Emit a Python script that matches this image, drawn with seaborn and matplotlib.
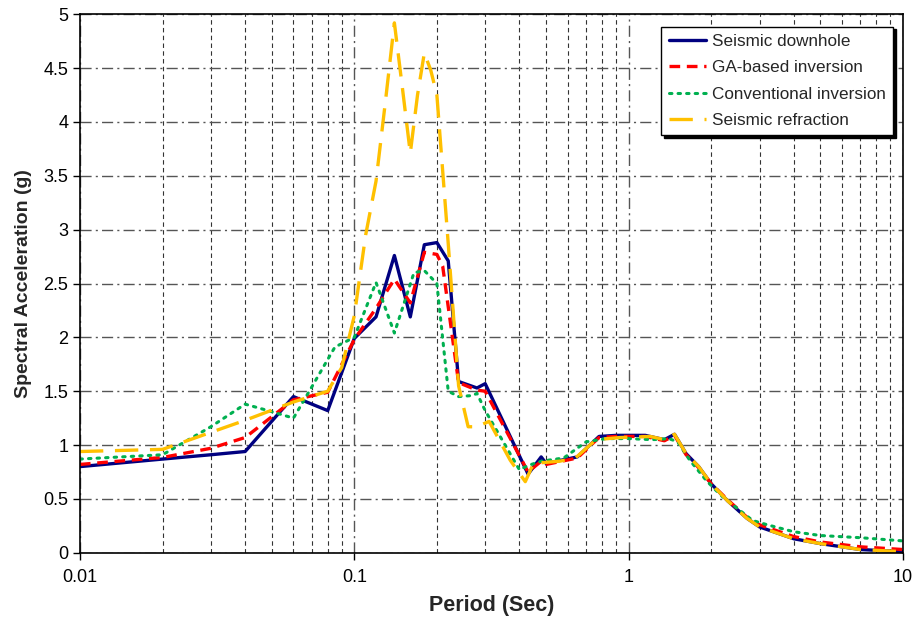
import numpy as np
import pandas as pd
import matplotlib
matplotlib.use("Agg")
import matplotlib.pyplot as plt
import seaborn as sns
from matplotlib.ticker import FixedLocator, NullFormatter, FuncFormatter

# ---- data ----
T_downhole = [0.01, 0.02, 0.03, 0.04, 0.06, 0.08, 0.10, 0.12, 0.14, 0.16, 0.18, 0.20, 0.22,
              0.24, 0.28, 0.30, 0.43, 0.48, 0.50, 0.65, 0.78, 0.90, 1.15, 1.35, 1.47, 1.62,
              1.80, 2.00, 2.30, 2.70, 3.00, 4.00, 5.00, 7.00, 10.0]
SA_downhole = [0.80, 0.87, 0.91, 0.94, 1.45, 1.32, 1.99, 2.19, 2.76, 2.19, 2.86, 2.88, 2.71,
               1.59, 1.53, 1.57, 0.73, 0.89, 0.83, 0.89, 1.08, 1.09, 1.09, 1.05, 1.10, 0.92,
               0.80, 0.64, 0.48, 0.32, 0.24, 0.13, 0.085, 0.03, 0.01]

T_ga = [0.01, 0.02, 0.03, 0.04, 0.06, 0.08, 0.10, 0.12, 0.14, 0.16, 0.18, 0.20, 0.21,
        0.24, 0.28, 0.30, 0.43, 0.48, 0.50, 0.65, 0.78, 0.90, 1.15, 1.35, 1.47, 1.62,
        1.80, 2.00, 2.30, 2.70, 3.00, 4.00, 5.00, 7.00, 10.0]
SA_ga = [0.82, 0.885, 0.97, 1.07, 1.42, 1.49, 1.98, 2.27, 2.54, 2.32, 2.79, 2.77, 2.66,
         1.58, 1.51, 1.50, 0.75, 0.85, 0.82, 0.88, 1.07, 1.08, 1.08, 1.04, 1.09, 0.91,
         0.79, 0.64, 0.49, 0.33, 0.26, 0.15, 0.10, 0.055, 0.03]

T_conv = [0.01, 0.02, 0.03, 0.04, 0.05, 0.06, 0.07, 0.085, 0.10, 0.12, 0.14, 0.165, 0.18,
          0.20, 0.22, 0.24, 0.27, 0.28, 0.30, 0.40, 0.43, 0.48, 0.58, 0.70, 0.83, 1.0,
          1.22, 1.40, 1.51, 1.67, 1.92, 2.08, 2.20, 2.83, 3.20, 4.00, 5.00, 7.00, 10.0]
SA_conv = [0.87, 0.91, 1.17, 1.38, 1.31, 1.25, 1.54, 1.91, 2.00, 2.51, 2.04, 2.60, 2.62,
           2.50, 1.50, 1.45, 1.46, 1.48, 1.32, 0.77, 0.81, 0.85, 0.88, 1.03, 1.06, 1.06,
           1.05, 1.06, 1.03, 0.86, 0.67, 0.58, 0.52, 0.30, 0.26, 0.195, 0.16, 0.14, 0.11]

T_refr = [0.01, 0.02, 0.04, 0.06, 0.08, 0.09, 0.10, 0.11, 0.12, 0.13, 0.14, 0.15, 0.16,
          0.17, 0.18, 0.19, 0.20, 0.22, 0.24, 0.26, 0.28, 0.31, 0.37, 0.42, 0.45, 0.56,
          0.64, 0.76, 0.93, 1.20, 1.35, 1.47, 1.62, 1.80, 2.00, 2.30, 2.70, 3.00, 4.00,
          5.00, 7.00, 10.0]
SA_refr = [0.94, 0.96, 1.23, 1.40, 1.50, 1.72, 2.20, 2.95, 3.45, 4.20, 4.92, 4.30, 3.71,
           4.25, 4.64, 4.48, 4.25, 2.87, 1.55, 1.17, 1.17, 1.22, 0.86, 0.66, 0.83, 0.85,
           0.88, 1.05, 1.07, 1.08, 1.05, 1.10, 0.92, 0.80, 0.64, 0.48, 0.32, 0.24, 0.13,
           0.085, 0.03, 0.01]

labels = ["Seismic downhole", "GA-based inversion", "Conventional inversion", "Seismic refraction"]
x_ticks = [0.01, 0.1, 1, 10]
x_tick_labels = ["0.01", "0.1", "1", "10"]
y_ticks = [0, 0.5, 1, 1.5, 2, 2.5, 3, 3.5, 4, 4.5, 5]
y_tick_labels = ["0", "0.5", "1", "1.5", "2", "2.5", "3", "3.5", "4", "4.5", "5"]

# ---- style ----
sns.set_style("white")
plt.rcParams['font.family'] = ['Liberation Sans', 'DejaVu Sans']

fig = plt.figure(figsize=(9.17, 6.19), dpi=100)
ax = fig.add_axes([0.0872, 0.107, 0.8975, 0.870])

series = [
    (T_downhole, SA_downhole, labels[0], dict(color="#000080", lw=2.4, ls="-")),
    (T_ga, SA_ga, labels[1], dict(color="#FF0000", lw=2.4, dashes=(3.2, 2.0))),
    (T_conv, SA_conv, labels[2], dict(color="#00B050", lw=2.2, dashes=(0.8, 2.0),
                                      dash_capstyle="round")),
    (T_refr, SA_refr, labels[3], dict(color="#FFC000", lw=2.4, dashes=(7.0, 3.5))),
]
for T, SA, lab, kw in series:
    df = pd.DataFrame({"Period": T, "SA": SA})
    sns.lineplot(data=df, x="Period", y="SA", ax=ax, label=lab, sort=False,
                 estimator=None, **kw)

ax.set_xscale("log")
ax.set_xlim(0.01, 10)
ax.set_ylim(0, 5)

ax.xaxis.set_major_locator(FixedLocator(x_ticks))
ax.xaxis.set_major_formatter(FuncFormatter(lambda v, p: x_tick_labels[x_ticks.index(v)] if v in x_ticks else ""))
minor = [m * d for d in [0.01, 0.1, 1] for m in range(2, 10)]
ax.xaxis.set_minor_locator(FixedLocator(minor))
ax.xaxis.set_minor_formatter(NullFormatter())
ax.set_yticks(y_ticks)
ax.set_yticklabels(y_tick_labels)

ax.grid(which="major", axis="both", ls=(0, (8, 3, 1.5, 3)), color="#555555", lw=1.0)
ax.grid(which="minor", axis="x", ls=(0, (4, 3)), color="#333333", lw=0.8)
ax.set_axisbelow(True)

for s in ax.spines.values():
    s.set_color("black")
    s.set_linewidth(1.2)

ax.tick_params(axis="both", which="major", direction="out", length=5, width=1,
               labelsize=13, color="black", labelcolor="black", left=True, bottom=True)
ax.tick_params(axis="x", which="minor", length=0)
ax.tick_params(axis="x", pad=7)

ax.set_xlabel("Period (Sec)", fontsize=15.5, fontweight="bold", labelpad=6)
ax.set_ylabel("Spectral Acceleration (g)", fontsize=14, fontweight="bold", labelpad=8)

leg = ax.legend(loc="upper right", bbox_to_anchor=(0.988, 0.977), borderaxespad=0,
                fontsize=12.3, frameon=True, fancybox=False,
                shadow={'color': 'black', 'alpha': 1},
                edgecolor="black", framealpha=1, handlelength=2.2, handletextpad=0.3,
                labelspacing=0.65, borderpad=0.45)
leg.get_frame().set_linewidth(1.0)

fig.savefig("out.png", dpi=100)
